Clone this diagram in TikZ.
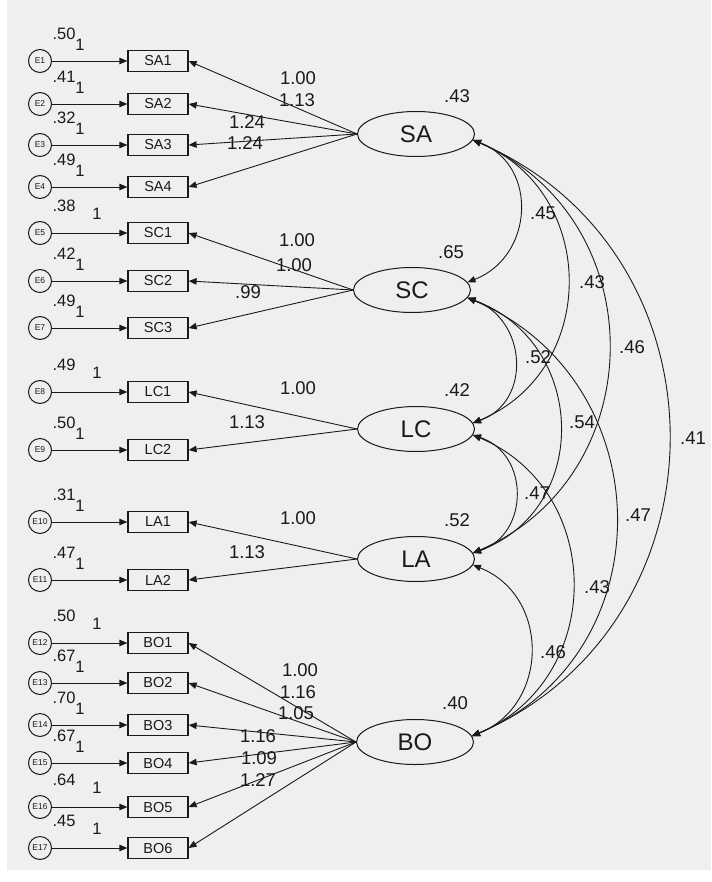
\documentclass[tikz,border=0pt]{standalone}
\usepackage{fontspec}
\setmainfont{Liberation Sans}
\usetikzlibrary{shapes.geometric,arrows.meta}
\definecolor{bg}{HTML}{EFEFEF}
\definecolor{ink}{HTML}{1A1A1A}
\begin{document}
\begin{tikzpicture}[x=1pt,y=-1pt,
  tip/.tip={Triangle[length=8pt,width=6.5pt]},
  obs/.style={draw=ink,line width=1.2pt,minimum width=60pt,minimum height=21pt,inner sep=0pt,text=ink,font=\fontsize{14.5}{14.5}\selectfont},
  lat/.style={ellipse,draw=ink,line width=1pt,minimum width=117pt,minimum height=45pt,inner sep=0pt,text=ink,font=\fontsize{24}{24}\selectfont},
  err/.style={circle,draw=ink,line width=1pt,minimum size=23pt,inner sep=0pt,text=ink,font=\fontsize{8.5}{8.5}\selectfont},
  num/.style={inner sep=0pt,text=ink,font=\fontsize{18.5}{18.5}\selectfont},
  evar/.style={inner sep=0pt,text=ink,font=\fontsize{16.5}{16.5}\selectfont},
  load/.style={draw=ink,line width=0.9pt,-tip},
  cov/.style={draw=ink,line width=0.9pt,tip-tip},
]
% canvas
\useasboundingbox (0,0) rectangle (711,882);
\fill[white] (0,0) rectangle (711,882);
\fill[bg] (7,0) rectangle (711,870);

% latent factors
\node[lat] (SA) at (416,134) {SA};
\node[lat] (SC) at (412,290) {SC};
\node[lat] (LC) at (416,429) {LC};
\node[lat] (LA) at (416,559) {LA};
\node[lat] (BO) at (415,742) {BO};

% indicators with their error terms: name / row / error index / error variance / x and y of the fixed 1
\foreach \n/\y/\e/\v/\ox/\oy in {
  SA1/61/1/.50/80/16, SA2/104/2/.41/80/16, SA3/145/3/.32/80/16, SA4/187/4/.49/80/16,
  SC1/233/5/.38/97/19, SC2/281/6/.42/80/16, SC3/328/7/.49/80/16,
  LC1/392/8/.49/97/19, LC2/450/9/.50/80/16,
  LA1/522/10/.31/80/16, LA2/580/11/.47/80/16,
  BO1/643/12/.50/97/19, BO2/683/13/.67/80/16, BO3/725/14/.70/80/16,
  BO4/763/15/.67/80/16, BO5/807/16/.64/97/19, BO6/848/17/.45/97/19}{
  \node[obs] (\n) at (158,\y) {\n};
  \node[err] (E\e) at (40,\y) {E\e};
  \draw[load] (E\e.east) -- (\n.west);
  \node[evar] (v\n) at (64,\y-27) {\v};
  \node[evar] (w\n) at (\ox,\y-\oy) {1};
}

% factor loadings
\foreach \f/\items in {SA/{SA1,SA2,SA3,SA4},SC/{SC1,SC2,SC3},LC/{LC1,LC2},LA/{LA1,LA2},
  BO/{BO1,BO2,BO3,BO4,BO5,BO6}}{
  \foreach \i in \items {\draw[load] (\f.west) -- (\i.east);}
}

% loading estimates
\node[num] (lSA1) at (298,78) {1.00};
\node[num] (lSA2) at (297,100) {1.13};
\node[num] (lSA3) at (247,122) {1.24};
\node[num] (lSA4) at (245,143) {1.24};
\node[num] (lSC1) at (297,240) {1.00};
\node[num] (lSC2) at (294,265) {1.00};
\node[num] (lSC3) at (248,292) {.99};
\node[num] (lLC1) at (298,388) {1.00};
\node[num] (lLC2) at (247,422) {1.13};
\node[num] (lLA1) at (298,518) {1.00};
\node[num] (lLA2) at (247,552) {1.13};
\node[num] (lBO1) at (300,670) {1.00};
\node[num] (lBO2) at (298,692) {1.16};
\node[num] (lBO3) at (296,713) {1.05};
\node[num] (lBO4) at (258,736) {1.16};
\node[num] (lBO5) at (259,758) {1.09};
\node[num] (lBO6) at (258,780) {1.27};

% factor variances
\node[num] (vSA) at (457,96) {.43};
\node[num] (vSC) at (451,252) {.65};
\node[num] (vLC) at (457,390) {.42};
\node[num] (vLA) at (457,520) {.52};
\node[num] (vBO) at (455,703) {.40};

% covariances between factors
\draw[cov] (SA.-6) .. controls +(66,25.5) and +(66,-25.5) .. (SC.8);
\draw[cov] (SA.-6) .. controls +(126,52.4) and +(126,-52.4) .. (LC.6);
\draw[cov] (SA.-6) .. controls +(180.7,78.5) and +(180.7,-78.5) .. (LA.6);
\draw[cov] (SA.-6) .. controls +(261.3,112.9) and +(261.3,-112.9) .. (BO.6);
\draw[cov] (SC.-8) .. controls +(59.3,21.7) and +(59.3,-21.7) .. (LC.6);
\draw[cov] (SC.-8) .. controls +(119.3,44.3) and +(119.3,-44.3) .. (LA.6);
\draw[cov] (SC.-8) .. controls +(194.7,82.2) and +(194.7,-82.2) .. (BO.6);
\draw[cov] (LC.-6) .. controls +(56.7,19.1) and +(56.7,-19.1) .. (LA.6);
\draw[cov] (LC.-6) .. controls +(133.3,56.3) and +(133.3,-56.3) .. (BO.6);
\draw[cov] (LA.-6) .. controls +(77.3,31) and +(77.3,-31) .. (BO.6);

% covariance estimates
\node[num] (cSASC) at (543,213) {.45};
\node[num] (cSALC) at (592,282) {.43};
\node[num] (cSALA) at (632,347) {.46};
\node[num] (cSABO) at (693,438) {.41};
\node[num] (cSCLC) at (538,357) {.52};
\node[num] (cSCLA) at (582,422) {.54};
\node[num] (cLCLA) at (537,493) {.47};
\node[num] (cSCBO) at (638,515) {.47};
\node[num] (cLCBO) at (597,587) {.43};
\node[num] (cLABO) at (553,652) {.46};
\end{tikzpicture}
\end{document}
